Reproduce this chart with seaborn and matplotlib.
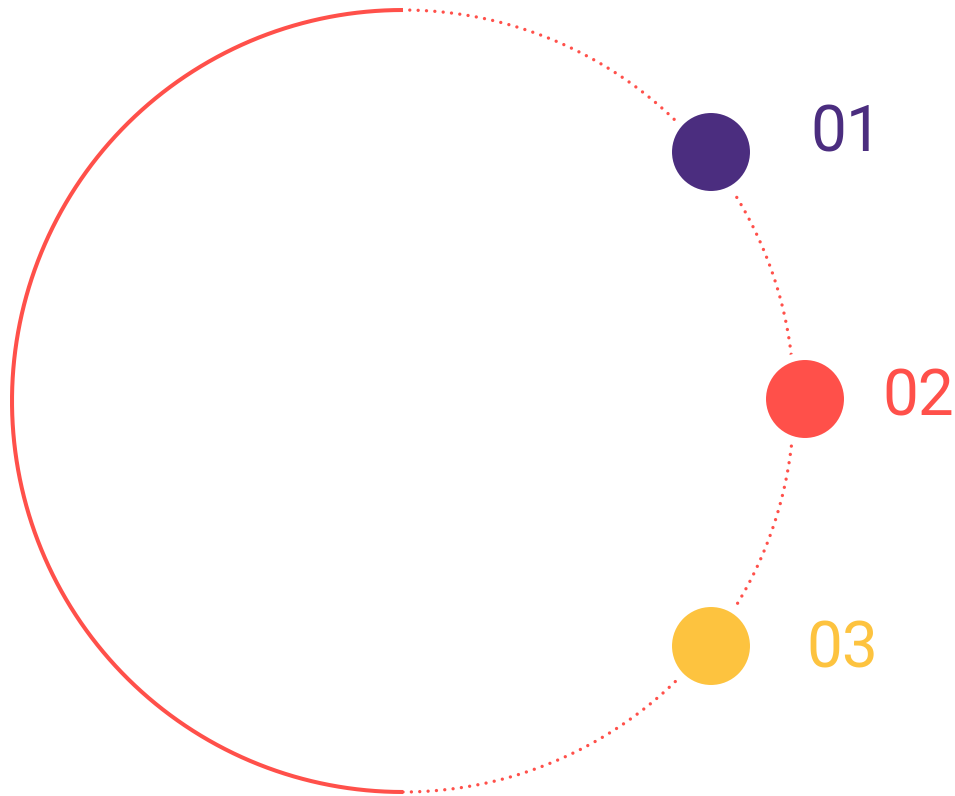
import numpy as np
import pandas as pd
import matplotlib.pyplot as plt
import seaborn as sns

sns.set_style("white")
plt.rcParams['font.family'] = ['Roboto', 'DejaVu Sans']

# step markers (pixel coords of the reference)
labels = ['01', '02', '03']
dot_x = [711, 805, 711]
dot_y = [152, 399, 646]
label_x = [810, 882, 806]
label_base = [151, 415, 668]
colors = ['#4B2D7F', '#FF504A', '#FDC33F']

ring_color = '#FF504A'
cx, cy, r = 403, 401, 391

fig = plt.figure(figsize=(9.55, 7.96), dpi=100)
ax = fig.add_axes([0, 0, 1, 1])
ax.set_xlim(0, 955)
ax.set_ylim(796, 0)
ax.set_aspect('equal')
ax.axis('off')

# left half solid, right half dotted
th_left = np.linspace(np.pi / 2, 3 * np.pi / 2, 400)
th_right = np.linspace(-np.pi / 2, np.pi / 2, 400)
left = pd.DataFrame({'x': cx + r * np.cos(th_left), 'y': cy - r * np.sin(th_left)})
right = pd.DataFrame({'x': cx + r * np.cos(th_right), 'y': cy - r * np.sin(th_right)})

sns.lineplot(data=left, x='x', y='y', sort=False, estimator=None, ax=ax,
             color=ring_color, linewidth=2.9, solid_capstyle='butt')
sns.lineplot(data=right, x='x', y='y', sort=False, estimator=None, ax=ax,
             color=ring_color, linewidth=2.4, linestyle=(0, (0.01, 2.5)),
             dash_capstyle='round')

dots = pd.DataFrame({'x': dot_x, 'y': dot_y, 'step': labels})
sns.scatterplot(data=dots, x='x', y='y', hue='step', palette=colors, s=3800,
                edgecolor='white', linewidth=5.5, legend=False, ax=ax, zorder=3)

for lab, tx, ty, c in zip(labels, label_x, label_base, colors):
    ax.text(tx, ty, lab, color=c, fontsize=46, fontweight='normal',
            ha='left', va='baseline')

ax.set_xlim(0, 955)
ax.set_ylim(796, 0)
fig.savefig('out.png', dpi=100)
